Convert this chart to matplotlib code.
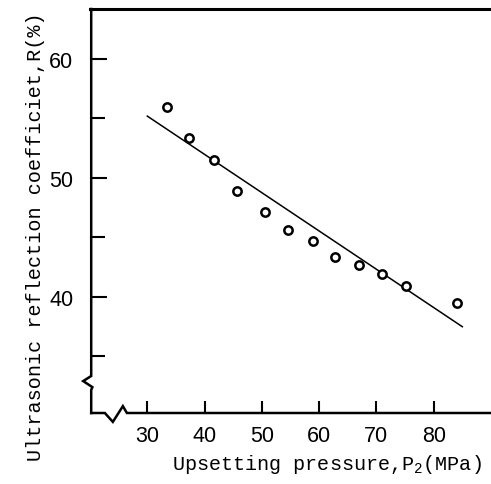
import matplotlib
matplotlib.use("Agg")
import matplotlib.pyplot as plt

# Measured points: upsetting pressure P2 (MPa) vs reflection coefficient R (%)
pressure = [33.5, 37.3, 41.7, 45.7, 50.6, 54.6, 59.0, 62.8, 66.9, 70.9, 75.1, 84.0]
reflection = [56.0, 53.4, 51.5, 48.9, 47.1, 45.6, 44.7, 43.4, 42.7, 41.9, 40.9, 39.5]

# Fitted straight line (end points)
fit_x = [30, 85]
fit_y = [55.2, 37.5]

X_TICKS = [30, 40, 50, 60, 70, 80]
Y_MAJOR = [40, 50, 60]
Y_MINOR = [35, 45, 55]

plt.rcParams["mathtext.default"] = "regular"

fig = plt.figure(figsize=(4.91, 4.85), dpi=100)
ax = fig.add_axes([90 / 491, 71 / 485, 401 / 491, 404 / 485])

ax.plot(fit_x, fit_y, color="black", lw=1.1, zorder=2)
ax.plot(pressure, reflection, "o", ms=6, mfc="white", mec="black", mew=1.8, zorder=3)

ax.set_xlim(20, 90)
ax.set_ylim(30.25, 64.2)

ax.set_xticks(X_TICKS)
ax.set_yticks(Y_MAJOR)
ax.set_yticks(Y_MINOR, minor=True)
ax.tick_params(axis="y", which="major", direction="in", length=12, width=1.5,
               pad=12, labelsize=15.5)
ax.tick_params(axis="y", which="minor", direction="in", length=11, width=1.5)
ax.tick_params(axis="x", direction="in", length=8.5, width=1.5, pad=9, labelsize=15.5)
for lab in ax.get_xticklabels() + ax.get_yticklabels():
    lab.set_family("Liberation Sans")

# spines: thick top, no right, left/bottom drawn by hand with break marks
ax.spines["right"].set_visible(False)
ax.spines["top"].set_linewidth(2.2)
ax.spines["left"].set_visible(False)
ax.spines["bottom"].set_visible(False)

tr = ax.transAxes
ax.plot([0.003, 0.003, -0.017, 0.006, 0.003, 0.003],
        [1.0, 0.0916, 0.079, 0.064, 0.057, 0.0],
        transform=tr, color="black", lw=1.8, clip_on=False, solid_joinstyle="miter")
ax.plot([0.003, 0.037, 0.057, 0.082, 0.092, 1.0],
        [0.0, 0.0, -0.022, 0.017, 0.0, 0.0],
        transform=tr, color="black", lw=1.8, clip_on=False, solid_joinstyle="miter")

ax.set_xlabel("Upsetting pressure,P$_2$(MPa)", family="Liberation Mono", fontsize=14.5)
ax.xaxis.set_label_coords(0.59, -0.126)
ax.set_ylabel("Ultrasonic reflection coefficiet,R(%)", family="Liberation Mono", fontsize=14.5)
ax.yaxis.set_label_coords(-0.137, 0.44)
ax.xaxis.label.set_va("center")
ax.yaxis.label.set_va("center")

fig.savefig("out.png", dpi=100)
